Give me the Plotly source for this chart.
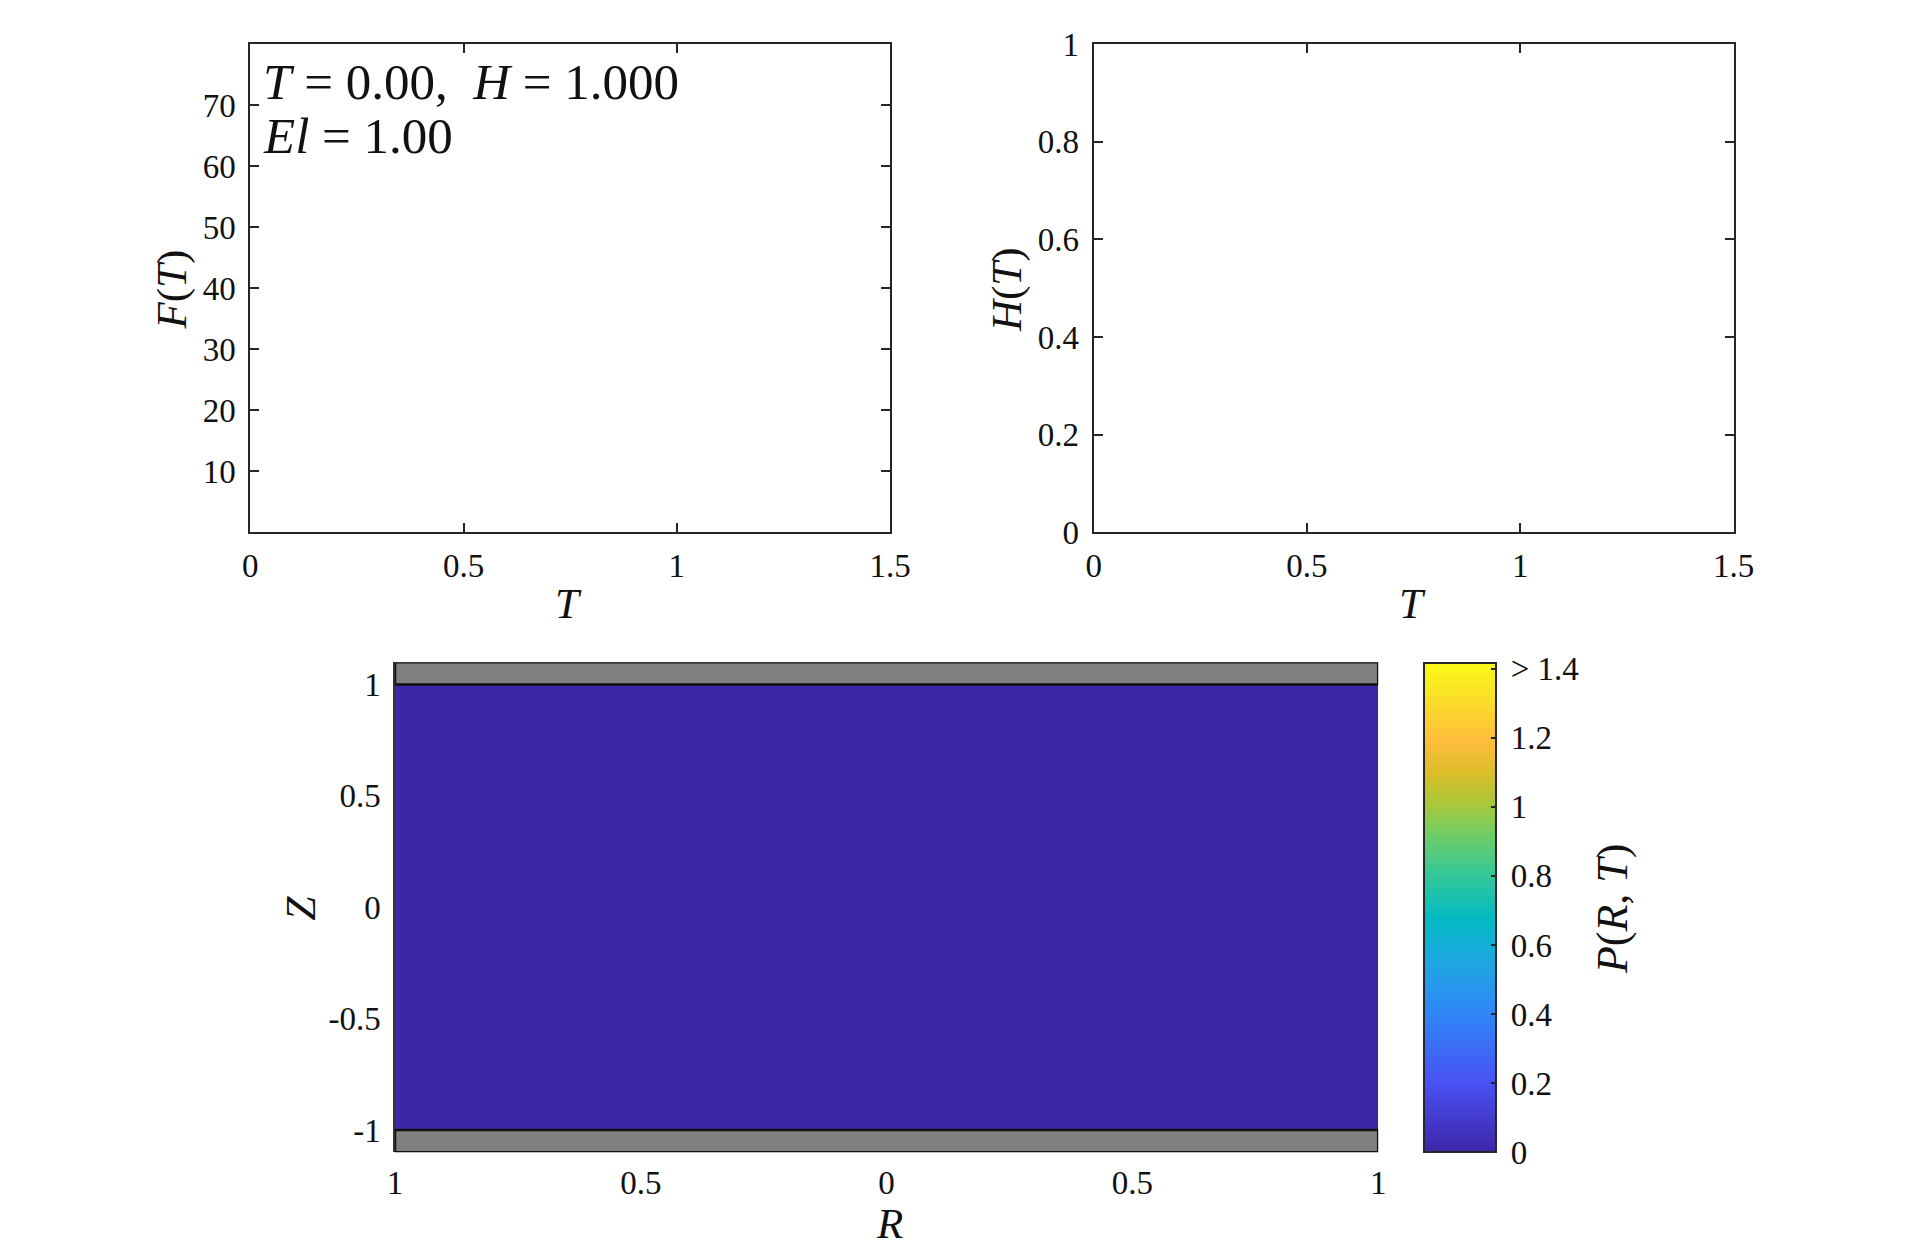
import plotly.graph_objects as go

# ---------------- data ----------------
f_time = []          # F(T) trace (empty at T = 0)
f_values = []
h_time = []          # H(T) trace (empty at T = 0)
h_values = []

f_ticks = [10, 20, 30, 40, 50, 60, 70]
h_ticks = [0, 0.2, 0.4, 0.6, 0.8, 1]
t_ticks = [0, 0.5, 1, 1.5]
t_ticklabels = ["0", "0.5", "1", "1.5"]

r_edges = [-1.0, 1.0]          # radial extent of the gap
z_edges = [-1.0, 1.0]          # vertical extent of the gap
p_field = [[0.0]]              # pressure P(R,T) at T = 0

wall_r = [-1.0, 1.0]
upper_wall_z = [1.0, 1.1]
lower_wall_z = [-1.1, -1.0]

r_ticks = [-1, -0.5, 0, 0.5, 1]
r_ticklabels = ["1", "0.5", "0", "0.5", "1"]
z_ticks = [-1, -0.5, 0, 0.5, 1]
z_ticklabels = ["-1", "-0.5", "0", "0.5", "1"]

cb_ticks = [0, 0.2, 0.4, 0.6, 0.8, 1.0, 1.2, 1.4]
cb_ticklabels = ["0", "0.2", "0.4", "0.6", "0.8", "1", "1.2", "> 1.4"]
p_max = 1.415

info_T = "0.00"
info_H = "1.000"
info_El = "1.00"

# ---------------- style ----------------
W, H = 1920, 1251
FONT = "Liberation Serif"
AX = "#262626"
TXT = "#111"

# the photographed page shows the figure slightly inset; compensate
SX, OX = 0.9867, 7.3
SY, OY = 0.971, 15.9
K = 1 / 0.979

TICK = round(32 * K)
TITLE = round(42 * K)

parula = [
    (0.2422, 0.1504, 0.6603), (0.2810, 0.3228, 0.9579), (0.1786, 0.5289, 0.9682),
    (0.1248, 0.6459, 0.8883), (0.0067, 0.7312, 0.7660), (0.2161, 0.7843, 0.5923),
    (0.4456, 0.8024, 0.3909), (0.6720, 0.7793, 0.2227), (0.8634, 0.7406, 0.1596),
    (0.9956, 0.7434, 0.2371), (0.9786, 0.8386, 0.1766), (0.9769, 0.9839, 0.0805),
]
pos = [0, 9, 18, 24, 30, 36, 41, 45, 49, 53, 57, 63]
colorscale = [[p / 63, "rgb(%d,%d,%d)" % tuple(round(c * 255) for c in col)]
              for p, col in zip(pos, parula)]

def fx(t):
    return ((t - OX) / SX) / W

def fy(t):
    return 1 - ((t - OY) / SY) / H

fig = go.Figure()

fig.add_trace(go.Scatter(x=f_time, y=f_values, mode="lines", xaxis="x", yaxis="y",
                         line=dict(color="#0072BD", width=2), showlegend=False))
fig.add_trace(go.Scatter(x=h_time, y=h_values, mode="lines", xaxis="x2", yaxis="y2",
                         line=dict(color="#0072BD", width=2), showlegend=False))

CB_L, CB_R, CB_T, CB_B = 1426, 1497, 662, 1151

fig.add_trace(go.Heatmap(
    x=r_edges, y=z_edges, z=p_field, xaxis="x3", yaxis="y3",
    colorscale=colorscale, zmin=0, zmax=p_max, hoverinfo="skip",
    colorbar=dict(
        x=fx(CB_L), xanchor="left", xpad=0,
        y=fy(CB_B), yanchor="bottom", ypad=0,
        thickness=round((CB_R - CB_L) / SX), thicknessmode="pixels",
        len=(CB_B - CB_T) / SY / H, lenmode="fraction",
        tickvals=cb_ticks, ticktext=["\u2009" + t for t in cb_ticklabels],
        ticks="inside", ticklen=6, tickwidth=2, tickcolor=AX,
        outlinecolor=AX, outlinewidth=2,
        tickfont=dict(family=FONT, size=TICK, color=TXT),
    ),
))

common = dict(showgrid=False, zeroline=False, showline=True, linecolor=AX, linewidth=2,
              mirror="ticks", ticks="inside", ticklen=9, tickwidth=2, tickcolor=AX,
              tickfont=dict(family=FONT, size=TICK, color=TXT))

fig.update_layout(
    width=W, height=H, margin=dict(l=0, r=0, t=0, b=0),
    paper_bgcolor="white", plot_bgcolor="white",
    xaxis=dict(domain=[fx(250), fx(891)], range=[0, 1.5], tickvals=t_ticks,
               ticktext=t_ticklabels, anchor="y", ticklabelstandoff=3, **common),
    yaxis=dict(domain=[fy(531), fy(43)], range=[0, 80], tickvals=f_ticks,
               anchor="x", ticklabelstandoff=6, **common),
    xaxis2=dict(domain=[fx(1095), fx(1736)], range=[0, 1.5], tickvals=t_ticks,
                ticktext=t_ticklabels, anchor="y2", ticklabelstandoff=3, **common),
    yaxis2=dict(domain=[fy(531), fy(43)], range=[0, 1], tickvals=h_ticks,
                anchor="x2", ticklabelstandoff=6, **common),
    xaxis3=dict(domain=[fx(395), fx(1380)], range=[-1, 1], tickvals=r_ticks,
                ticktext=r_ticklabels, anchor="y3", showgrid=False, zeroline=False,
                showline=False, ticks="", ticklabelstandoff=8,
                tickfont=dict(family=FONT, size=TICK, color=TXT)),
    yaxis3=dict(domain=[fy(1151), fy(661)], range=[-1.1, 1.1], tickvals=z_ticks,
                ticktext=z_ticklabels, anchor="x3", showgrid=False, zeroline=False,
                showline=True, linecolor="#333", linewidth=1.5, ticks="",
                ticklabelstandoff=6,
                tickfont=dict(family=FONT, size=TICK, color=TXT)),
)

# walls (grey plates)
for zz in (upper_wall_z, lower_wall_z):
    fig.add_shape(type="rect", xref="x3", yref="y3", x0=wall_r[0], x1=wall_r[1],
                  y0=zz[0], y1=zz[1], fillcolor="#808080",
                  line=dict(color="#111", width=2.5), layer="above")

def title(text, x, y, angle=0, size=TITLE):
    fig.add_annotation(text=text, x=fx(x), y=fy(y), xref="paper", yref="paper",
                       xanchor="center", yanchor="middle",
                       showarrow=False, textangle=angle,
                       font=dict(family=FONT, size=size, color=TXT))

title("<i>T</i>", 569, 602)
title("<i>T</i>", 1414, 602)
title("<i>F</i>(<i>T</i>)", 172, 288, angle=-90)
title("<i>H</i>(<i>T</i>)", 1008, 288, angle=-90)
title("<i>Z</i>", 300, 907, angle=-90)
title("<i>R</i>", 890, 1222)
title("<i>P</i>(<i>R</i>, <i>T</i>)", 1615, 907, angle=-90, size=TITLE + 1)

for line, yc in (("<i>T</i> = %s,  <i>H</i> = %s" % (info_T, info_H), 81),
                 ("<i>El</i> = %s" % info_El, 135)):
    fig.add_annotation(text=line, x=fx(261), y=fy(yc), xref="paper", yref="paper",
                       xanchor="left", yanchor="middle", align="left", showarrow=False,
                       font=dict(family=FONT, size=round(50 * K), color=TXT))

fig.write_html(
    "out.html",
    config={"displayModeBar": False},
    post_script=("document.documentElement.style.margin='0';"
                 "document.body.style.margin='0';"),
)
